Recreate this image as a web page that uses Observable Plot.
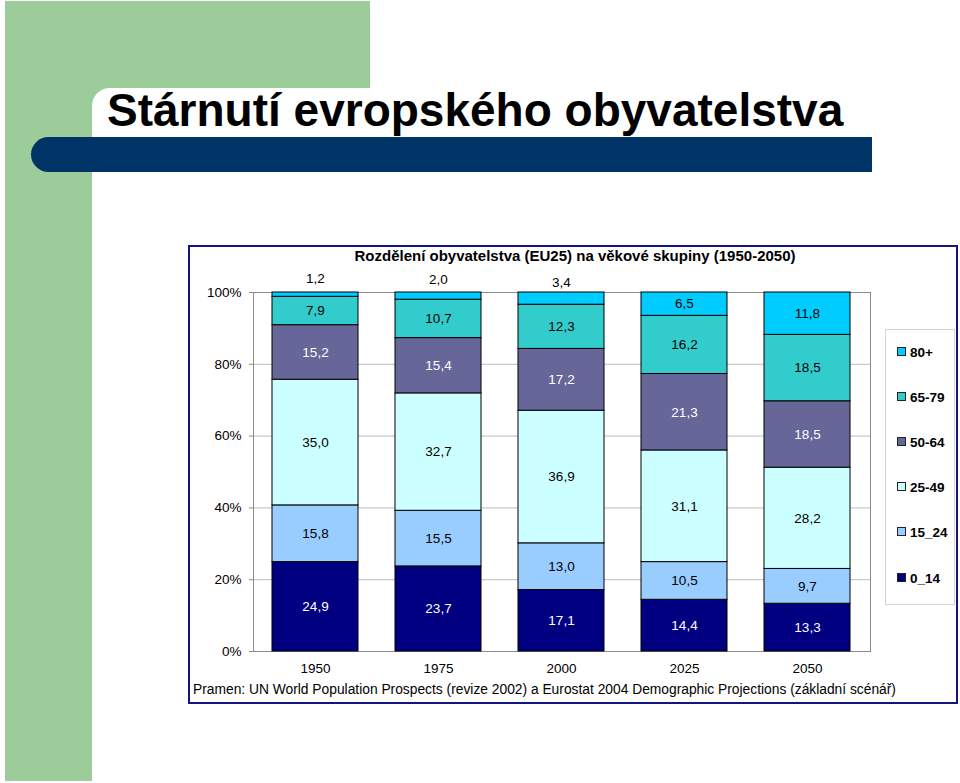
<!DOCTYPE html>
<html>
<head>
<meta charset="utf-8">
<script src="https://cdn.jsdelivr.net/npm/d3@7"></script>
<script src="https://cdn.jsdelivr.net/npm/@observablehq/plot@0.6"></script>
<style>
  html, body { margin: 0; padding: 0; background: #ffffff; }
  body { width: 960px; height: 783px; position: relative; overflow: hidden; font-family: "Liberation Sans", Arial, sans-serif; }
  .abs { position: absolute; }
  .green { background: #9ccc9a; }
  #title { left: 107px; top: 82px; font-size: 46px; font-weight: bold; color: #000; white-space: nowrap; line-height: 56px; }
  #bluebar { left: 31px; top: 137px; width: 841px; height: 35px; background: #003366; border-radius: 18px 0 0 18px; }
  #box { left: 188px; top: 245px; width: 766px; height: 455px; border: 2px solid #14147e; background: #fff; }
  #ctitle { left: 190px; width: 770px; top: 247px; text-align: center; font-size: 15px; font-weight: bold; white-space: nowrap; }
  #caption { left: 193px; top: 682px; font-size: 13.8px; white-space: nowrap; }
  #chart { left: 190px; top: 262px; }
  #legend { left: 885px; top: 329px; width: 68px; height: 274px; border: 1px solid #d4d4d4; background: #fff; }
  .li { position: absolute; left: 11px; font-size: 13.5px; font-weight: bold; white-space: nowrap; line-height: 16px; }
  .sw { display: inline-block; width: 7px; height: 7px; border: 1px solid #222; margin-right: 4px; vertical-align: 1px; }
</style>
</head>
<body>
<div class="abs green" style="left:5px;top:1px;width:365px;height:87px;"></div>
<div class="abs green" style="left:5px;top:1px;width:87px;height:780px;"></div>
<div class="abs green" style="left:92px;top:88px;width:30px;height:30px;"></div>
<div class="abs" style="left:92px;top:88px;width:800px;height:60px;background:#fff;border-radius:18px 0 0 0;"></div>
<div id="title" class="abs">Stárnutí evropského obyvatelstva</div>
<div id="bluebar" class="abs"></div>
<div id="box" class="abs"></div>
<div id="ctitle" class="abs">Rozdělení obyvatelstva (EU25) na věkové skupiny (1950-2050)</div>
<div id="chart" class="abs"></div>
<div id="caption" class="abs">Pramen: UN World Population Prospects (revize 2002) a Eurostat 2004 Demographic Projections (základní scénář)</div>
<div id="legend" class="abs"></div>
<script>
// ---- data ----
const years = ["1950", "1975", "2000", "2025", "2050"];
const groups = ["0_14", "15_24", "25-49", "50-64", "65-79", "80+"];
const colors = ["#000080", "#99ccff", "#ccffff", "#666699", "#33cccc", "#00ccff"];
const v0_14  = [24.9, 23.7, 17.1, 14.4, 13.3];
const v15_24 = [15.8, 15.5, 13.0, 10.5, 9.7];
const v25_49 = [35.0, 32.7, 36.9, 31.1, 28.2];
const v50_64 = [15.2, 15.4, 17.2, 21.3, 18.5];
const v65_79 = [7.9, 10.7, 12.3, 16.2, 18.5];
const v80    = [1.2, 2.0, 3.4, 6.5, 11.8];
const yTicks = [0, 0.2, 0.4, 0.6, 0.8, 1];
const outsideLabelYears = ["1950", "1975", "2000"]; // 80+ labels drawn above the bar

const series = [v0_14, v15_24, v25_49, v50_64, v65_79, v80];
const data = [];
groups.forEach((g, gi) => years.forEach((y, yi) => data.push({year: y, group: g, value: series[gi][yi]})));

const fmt = v => d3.format(".1f")(v).replace(".", ",");
const darkGroups = new Set(["0_14", "50-64"]);
const isOutside = d => d.group === "80+" && outsideLabelYears.includes(d.year);

const st = o => Plot.stackY({x: "year", y: "value", z: "group", order: groups, offset: "normalize", ...o});
const FS = 13.5;

const chart = Plot.plot({
  width: 690,
  height: 420,
  marginLeft: 63,
  marginRight: 10,
  marginTop: 30,
  marginBottom: 31,
  style: {fontFamily: "'Liberation Sans', Arial, sans-serif", fontSize: "13.5px", background: "transparent", color: "#000"},
  x: {domain: years, paddingInner: 0.3, paddingOuter: 0.15, label: null},
  y: {domain: [0, 1], label: null},
  color: {domain: groups, range: colors},
  marks: [
    Plot.gridY(yTicks, {stroke: "#bdbdbd", strokeOpacity: 1}),
    Plot.frame({stroke: "#8c8c8c"}),
    Plot.barY(data, st({fill: "group", stroke: "#000", strokeWidth: 1})),
    Plot.text(data, st({text: d => (!isOutside(d) && darkGroups.has(d.group)) ? fmt(d.value) : "", fill: "white", fontSize: FS})),
    Plot.text(data, st({text: d => (!isOutside(d) && !darkGroups.has(d.group)) ? fmt(d.value) : "", fill: "black", fontSize: FS})),
    Plot.text(data, st({text: d => isOutside(d) ? fmt(d.value) : "", fill: "black", dy: -16, fontSize: FS})),
    Plot.axisY({ticks: yTicks, tickFormat: d => Math.round(d * 100) + "%", tickSize: 4, tickPadding: 8, stroke: "#8c8c8c", fill: "#000", fontSize: FS}),
    Plot.axisX({tickSize: 0, tickPadding: 12, fill: "#000", fontSize: FS})
  ]
});
document.getElementById("chart").appendChild(chart);

// legend (top to bottom: 80+ ... 0_14)
const legend = document.getElementById("legend");
const legendTops = [15, 60, 105, 150, 195, 241];
groups.slice().reverse().forEach((g, i) => {
  const c = colors[groups.indexOf(g)];
  const el = document.createElement("div");
  el.className = "li";
  el.style.top = legendTops[i] + "px";
  el.innerHTML = `<span class="sw" style="background:${c}"></span>${g}`;
  legend.appendChild(el);
});
</script>
</body>
</html>
